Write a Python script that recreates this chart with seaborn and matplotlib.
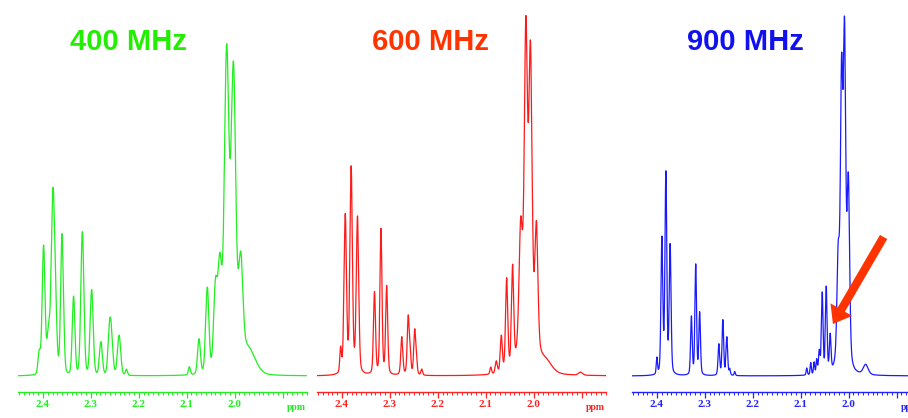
import numpy as np
import pandas as pd
import seaborn as sns
import matplotlib
matplotlib.use("Agg")
import matplotlib.pyplot as plt
from matplotlib.transforms import blended_transform_factory

# ---------------- data (peak lists) ----------------
# chemical shift (ppm), peak intensity (arb. units), line width (FWHM, ppm)
GREEN_PPM = [2.4077, 2.3986, 2.388, 2.379, 2.3735, 2.360, 2.336, 2.3177, 2.2983,
             2.279, 2.2604, 2.256, 2.241, 2.2257,
             2.0944, 2.0743, 2.057, 2.040, 2.031, 2.0168, 2.0023, 1.987, 2.010, 1.972]
GREEN_INT = [22, 128, 42, 175, 48, 140, 78, 143, 85,
             33, 50, 20, 40, 6,
             8, 35, 85, 80, 85, 245, 228, 85, 92, 25]
GREEN_FWHM = [0.006, 0.007, 0.008, 0.008, 0.007, 0.007, 0.0065, 0.0075, 0.0075,
              0.007, 0.008, 0.007, 0.008, 0.005,
              0.005, 0.007, 0.008, 0.009, 0.009, 0.0102, 0.0102, 0.010, 0.030, 0.035]

RED_PPM = [2.4027, 2.393, 2.3807, 2.3675, 2.332, 2.3185, 2.3066, 2.275, 2.2616,
           2.2575, 2.248, 2.2445, 2.2333,
           2.0894, 2.0778, 2.0674, 2.0562, 2.0438, 2.027, 2.0162, 2.0066, 1.994,
           2.012, 1.975, 1.902]
RED_INT = [24, 158, 205, 156, 82, 145, 88, 38, 58,
           18, 44, 12, 6,
           7, 12, 36, 92, 100, 110, 276, 254, 115,
           70, 12, 3]
RED_FWHM = [0.004, 0.006, 0.006, 0.006, 0.005, 0.005, 0.005, 0.005, 0.005,
            0.004, 0.005, 0.004, 0.004,
            0.004, 0.005, 0.005, 0.0055, 0.0055, 0.008, 0.0075, 0.0075, 0.007,
            0.030, 0.030, 0.010]

BLUE_PPM = [2.400, 2.3896, 2.3813, 2.3724, 2.328, 2.319, 2.3108, 2.2707, 2.2624,
            2.2541, 2.248, 2.2376,
            2.0873, 2.079, 2.072, 2.0666, 2.0612, 2.055, 2.0467, 2.0384, 2.0218,
            2.0147, 2.0085, 2.0005, 2.0115, 1.9643]
BLUE_INT = [16, 135, 200, 128, 58, 110, 62, 31, 55,
            38, 6, 4,
            7, 12, 12, 14, 22, 80, 85, 36, 90,
            232, 270, 165, 70, 10]
BLUE_FWHM = [0.003, 0.0045, 0.0045, 0.0045, 0.004, 0.004, 0.004, 0.004, 0.004,
             0.004, 0.003, 0.003,
             0.003, 0.003, 0.003, 0.003, 0.004, 0.004, 0.004, 0.004, 0.006,
             0.0055, 0.0055, 0.006, 0.018, 0.012]

TITLES = ["400 MHz", "600 MHz", "900 MHz"]
TICKS = [2.4, 2.3, 2.2, 2.1, 2.0, 1.9]
TICK_LABELS = ["2.4", "2.3", "2.2", "2.1", "2.0", ""]

# ---------------- build spectra from peak lists ----------------
ppm_axis = np.linspace(1.846, 2.454, 5000)

def spectrum(centers, heights, widths, eta):
    y = np.zeros_like(ppm_axis)
    for c, h, w in zip(centers, heights, widths):
        d = ppm_axis - c
        lor = 1.0 / (1.0 + (2 * d / w) ** 2)
        gau = np.exp(-4 * np.log(2) * (d / w) ** 2)
        y += h * (eta * lor + (1 - eta) * gau)
    return y

frames = []
for name, p, h, w, eta in [("400 MHz", GREEN_PPM, GREEN_INT, GREEN_FWHM, 0.15),
                           ("600 MHz", RED_PPM, RED_INT, RED_FWHM, 0.3),
                           ("900 MHz", BLUE_PPM, BLUE_INT, BLUE_FWHM, 0.3)]:
    frames.append(pd.DataFrame({"ppm": ppm_axis,
                                "intensity": spectrum(p, h, w, eta),
                                "field": name}))
df = pd.concat(frames, ignore_index=True)

# ---------------- styling ----------------
sns.set_style("white")
plt.rcParams["font.family"] = ["Liberation Sans", "DejaVu Sans"]

line_colors = ["#22ee22", "#ff1a1a", "#1a1aff"]
title_colors = ["#22ee00", "#ff3300", "#1111ee"]
axis_colors = ["#22ee22", "#ff2222", "#2222ff"]

W, H = 908, 418
fig = plt.figure(figsize=(W / 100, H / 100), dpi=100)

panel_left = [18, 317, 632]
panel_width = 289
ax_bottom = 26
ax_height = 392

axes = []
for i, name in enumerate(TITLES):
    ax = fig.add_axes([panel_left[i] / W, ax_bottom / H, panel_width / W, ax_height / H])
    sub = df[df["field"] == name]
    sns.lineplot(data=sub, x="ppm", y="intensity", ax=ax, color=line_colors[i],
                 linewidth=0.9, estimator=None, sort=False)
    ax.set_xlim(2.452, 1.849)
    ax.set_ylim(-16, 376)
    ax.set_xlabel("")
    ax.set_ylabel("")
    ax.set_yticks([])
    for s in ["top", "left", "right"]:
        ax.spines[s].set_visible(False)
    ax.spines["bottom"].set_color(axis_colors[i])
    ax.spines["bottom"].set_linewidth(1.0)
    ax.set_xticks(TICKS)
    ax.set_xticklabels(TICK_LABELS)
    ax.set_xticks(np.arange(1.85, 2.455, 0.01), minor=True)
    ax.tick_params(axis="x", which="major", direction="out", length=4, width=0.9,
                   color=axis_colors[i], labelcolor=axis_colors[i], pad=2,
                   bottom=True)
    ax.tick_params(axis="x", which="minor", direction="out", length=2, width=0.7,
                   color=axis_colors[i], bottom=True)
    for lab in ax.get_xticklabels():
        lab.set_fontfamily(["Liberation Serif", "DejaVu Serif"])
        lab.set_fontweight("bold")
        lab.set_fontsize(8)
    tr = blended_transform_factory(ax.transData, ax.transAxes)
    ax.text(1.871, -0.027, "ppm", transform=tr, ha="center", va="top",
            fontsize=7, fontweight="bold", color=axis_colors[i],
            family=["Liberation Serif", "DejaVu Serif"])
    ax.text([0.382, 0.393, 0.394][i], 0.893, name, transform=ax.transAxes,
            ha="center", va="center", fontsize=21, fontweight="bold",
            color=title_colors[i])
    ax.set_facecolor("none")
    axes.append(ax)

# red arrow pointing at the resolved multiplet in the 900 MHz spectrum
axes[2].annotate("", xy=(2.0328, 52), xytext=(1.927, 139),
                 arrowprops=dict(arrowstyle="simple,head_length=1.0,head_width=1.5,tail_width=0.5",
                                 color="#ff3300", lw=0, shrinkA=0, shrinkB=0,
                                 mutation_scale=12))

fig.savefig("out.png", dpi=100)
